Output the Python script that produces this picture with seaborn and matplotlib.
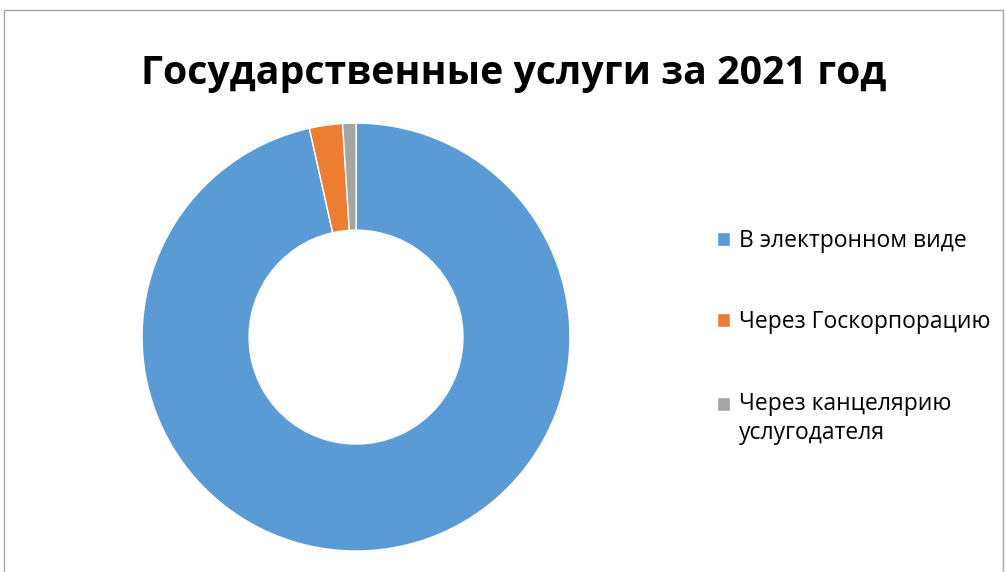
import matplotlib.pyplot as plt
import matplotlib.patches as mpatches
import seaborn as sns

sns.set_theme(style="white")
plt.rcParams['font.family'] = ['Open Sans', 'DejaVu Sans']

# Data
categories = ['В электронном виде', 'Через Госкорпорацию', 'Через канцелярию\nуслугодателя']
shares = [96.5, 2.5, 1.0]
colors = ['#5b9bd5', '#ed7d31', '#a5a5a5']
title = 'Государственные услуги за 2021 год'

fig = plt.figure(figsize=(10.05, 5.72), dpi=100)
ax = fig.add_axes([0.1413, 0.0367, 0.4259, 0.748])

wedges, _ = ax.pie(
    shares,
    colors=colors,
    startangle=90,
    counterclock=False,
    radius=1.0,
    wedgeprops=dict(width=0.5, edgecolor='white', linewidth=1.0),
)
ax.set_xlim(-1, 1)
ax.set_ylim(-1, 1)

fig.suptitle(title, x=0.511, y=0.905, fontsize=28.3, fontweight='bold', color='black')

leg = ax.legend(
    wedges, categories,
    loc='upper left',
    bbox_to_anchor=(0.693, 0.6355),
    bbox_transform=fig.transFigure,
    frameon=False,
    fontsize=16.5,
    handlelength=0.55,
    handleheight=0.55,
    handletextpad=0.4,
    labelspacing=2.5,
)
for t in leg.get_texts():
    t.set_color('black')
    t.set_linespacing(1.3)

# align the last marker with the first line of its two-line label
last = leg.legend_handles[2]
last.set_y(last.get_y() + 11)

# Outer chart border
border = mpatches.Rectangle((0.004, -0.01), 0.994, 0.993, transform=fig.transFigure,
                            fill=False, edgecolor='#a6a6a6', linewidth=1.0)
fig.patches.append(border)

fig.savefig('out.png', dpi=100)
